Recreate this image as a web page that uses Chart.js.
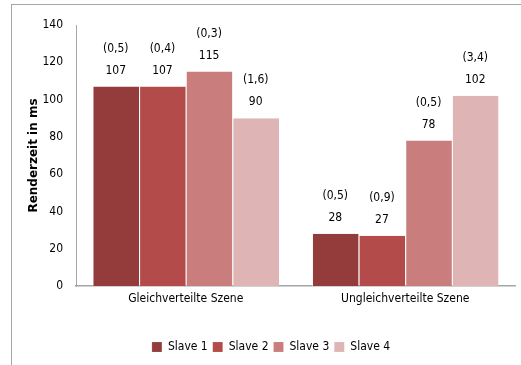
<!DOCTYPE html>
<html>
<head>
<meta charset="utf-8">
<script src="https://cdn.jsdelivr.net/npm/chart.js@4"></script>
<style>
  html, body { margin: 0; padding: 0; background: #fff; }
  #wrap { position: relative; width: 521px; height: 365px; }
  #frame { position: absolute; left: 11px; top: 4px; right: 0; bottom: 0;
           border-left: 1px solid #a6a6a6; border-top: 1px solid #a6a6a6; }
  canvas { position: absolute; left: 0; top: 0; }
</style>
</head>
<body>
<div id="wrap">
  <div id="frame"></div>
  <canvas id="renderChart" width="521" height="365"></canvas>
</div>
<script>
// ---------- Data ----------
const scenes = ['Gleichverteilte Szene', 'Ungleichverteilte Szene'];
const slaveNames = ['Slave 1', 'Slave 2', 'Slave 3', 'Slave 4'];
const slaveColors = ['#943c3b', '#b24b49', '#c97d7c', '#dfb4b4'];

// mean render time per slave (ms), one entry per scene
const slave1 = [107, 28];
const slave2 = [107, 27];
const slave3 = [115, 78];
const slave4 = [90, 102];

// spread shown in brackets above each bar
const spread1 = ['(0,5)', '(0,5)'];
const spread2 = ['(0,4)', '(0,9)'];
const spread3 = ['(0,3)', '(0,5)'];
const spread4 = ['(1,6)', '(3,4)'];

const yTicks = [0, 20, 40, 60, 80, 100, 120, 140];

const FONT = '"DejaVu Sans Condensed", "Liberation Sans Narrow", "Arial Narrow", sans-serif';

const seriesValues = [slave1, slave2, slave3, slave4];
const seriesSpread = [spread1, spread2, spread3, spread4];

// ---------- Labels above bars: "(spread)" then value ----------
const barLabels = {
  id: 'barLabels',
  afterDatasetsDraw(chart) {
    const ctx = chart.ctx;
    ctx.save();
    ctx.font = '12px ' + FONT;
    ctx.fillStyle = '#000';
    ctx.textAlign = 'center';
    ctx.textBaseline = 'middle';
    chart.data.datasets.forEach((ds, i) => {
      const meta = chart.getDatasetMeta(i);
      meta.data.forEach((bar, j) => {
        const y = bar.y;
        ctx.fillText(String(ds.data[j]), bar.x, y - 16);
        ctx.fillText(seriesSpread[i][j], bar.x, y - 38);
      });
    });
    ctx.restore();
  }
};

const datasets = slaveNames.map((name, i) => ({
  label: name,
  data: seriesValues[i],
  backgroundColor: slaveColors[i],
  borderColor: 'rgba(255,255,255,0.55)',
  borderWidth: { left: 1, right: 0, top: 0, bottom: 0 },
  borderSkipped: false,
  categoryPercentage: 0.85,
  barPercentage: 1.0
}));

const ctx = document.getElementById('renderChart').getContext('2d');
new Chart(ctx, {
  type: 'bar',
  data: { labels: scenes, datasets },
  options: {
    responsive: false,
    animation: false,
    layout: { padding: { left: 27, top: 25, right: 6, bottom: 2 } },
    plugins: {
      legend: {
        position: 'bottom',
        labels: {
          boxWidth: 10,
          boxHeight: 10,
          padding: 5,
          color: '#000',
          font: { family: FONT, size: 12 }
        }
      },
      tooltip: { enabled: false }
    },
    scales: {
      x: {
        grid: { display: false, drawTicks: false },
        border: { color: '#a6a6a6', width: 1.5 },
        ticks: { color: '#000', font: { family: FONT, size: 12 }, padding: 6 },
        afterFit(axis) { axis.height = 50; }
      },
      y: {
        min: 0,
        max: 140,
        afterBuildTicks(axis) { axis.ticks = yTicks.map(v => ({ value: v })); },
        grid: { display: false, drawTicks: false },
        border: { color: '#a6a6a6', width: 1 },
        ticks: { color: '#000', font: { family: FONT, size: 12 }, padding: 13 },
        title: {
          display: true,
          text: 'Renderzeit in ms',
          color: '#000',
          font: { family: '"DejaVu Sans", sans-serif', size: 12, weight: 'bold' },
          padding: { top: 0, bottom: 4 }
        },
        afterFit(axis) { axis.width = 49; }
      }
    }
  },
  plugins: [barLabels]
});
</script>
</body>
</html>
